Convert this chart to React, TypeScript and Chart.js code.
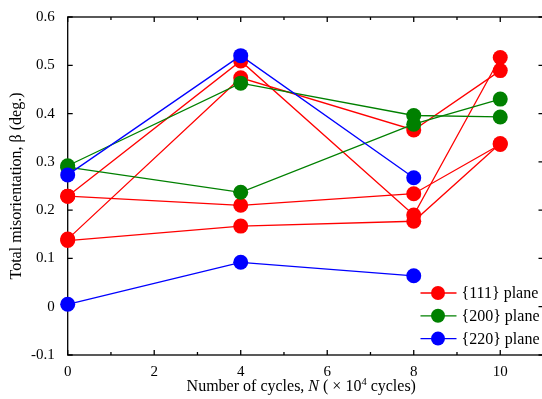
import React, { useEffect, useRef } from 'react';
import { Chart, registerables } from 'chart.js';
Chart.register(...registerables);

const cycles = [0, 4, 8, 10];
const cyclesBlue = [0, 4, 8];
const plane111a = [0.229, 0.509, 0.19, 0.516];
const plane111b = [0.14, 0.474, 0.366, 0.489];
const plane111c = [0.229, 0.21, 0.234, 0.336];
const plane111d = [0.137, 0.167, 0.177, 0.338];
const plane200a = [0.292, 0.463, 0.396, 0.393];
const plane200b = [0.289, 0.237, 0.378, 0.43];
const plane220a = [0.273, 0.52, 0.267];
const plane220b = [0.005, 0.092, 0.064];
const xTickValues = [0, 2, 4, 6, 8, 10];
const xMinorTicks = [1, 3, 5, 7, 9];
const yTickValues = [-0.1, 0, 0.1, 0.2, 0.3, 0.4, 0.5, 0.6];
const legendLabels = ['{111} plane', '{200} plane', '{220} plane'];
const RED = '#ff0000';
const GREEN = '#008000';
const BLUE = '#0000ff';
const legendColors = [RED, GREEN, BLUE];
const FONT = '"Liberation Serif", "Times New Roman", serif';

const pts = (xs: number[], ys: number[]) => xs.map((x, i) => ({ x, y: ys[i] }));

const ds = (label: string, color: string, xs: number[], ys: number[]) => ({
  label,
  data: pts(xs, ys),
  borderColor: color,
  backgroundColor: color,
  borderWidth: 1.3,
  pointRadius: 7.5,
  pointBorderWidth: 0,
  pointHoverRadius: 7.5,
  showLine: true,
  tension: 0,
  clip: false as any,
});

const framePlugin = {
  id: 'frame',
  beforeDatasetsDraw(chart: any) {
    const { ctx, chartArea: a, scales } = chart;
    const x = scales.x;
    const y = scales.y;
    ctx.save();
    ctx.strokeStyle = '#000';
    ctx.lineWidth = 1.3;
    ctx.strokeRect(a.left, a.top, a.right - a.left, a.bottom - a.top);
    ctx.beginPath();
    xTickValues.forEach((v) => {
      const px = x.getPixelForValue(v);
      ctx.moveTo(px, a.bottom);
      ctx.lineTo(px, a.bottom - 5);
      ctx.moveTo(px, a.top);
      ctx.lineTo(px, a.top + 5);
    });
    xMinorTicks.forEach((v) => {
      const px = x.getPixelForValue(v);
      ctx.moveTo(px, a.bottom);
      ctx.lineTo(px, a.bottom - 3);
      ctx.moveTo(px, a.top);
      ctx.lineTo(px, a.top + 3);
    });
    yTickValues.forEach((v) => {
      const py = y.getPixelForValue(v);
      ctx.moveTo(a.left, py);
      ctx.lineTo(a.left + 5, py);
      ctx.moveTo(a.right, py);
      ctx.lineTo(a.right - 5, py);
    });
    ctx.stroke();
    ctx.restore();
  },
  afterDraw(chart: any) {
    const { ctx, chartArea: a, scales } = chart;
    ctx.save();
    const lx = a.right - 123;
    legendLabels.forEach((lab, i) => {
      const ly = a.bottom - 62 + i * 22.8;
      ctx.strokeStyle = legendColors[i];
      ctx.fillStyle = legendColors[i];
      ctx.lineWidth = 1.3;
      ctx.beginPath();
      ctx.moveTo(lx, ly);
      ctx.lineTo(lx + 36, ly);
      ctx.stroke();
      ctx.beginPath();
      ctx.arc(lx + 17.5, ly, 7, 0, Math.PI * 2);
      ctx.fill();
      ctx.fillStyle = '#000';
      ctx.font = '16px ' + FONT;
      ctx.textBaseline = 'middle';
      ctx.textAlign = 'left';
      ctx.fillText(lab, lx + 41, ly + 1);
    });
    ctx.save();
    ctx.translate(17, (a.top + a.bottom) / 2);
    ctx.rotate(-Math.PI / 2);
    ctx.fillStyle = '#000';
    ctx.font = '16px ' + FONT;
    ctx.textAlign = 'center';
    ctx.textBaseline = 'middle';
    ctx.fillText('Total misorientation, β (deg.)', 0, 0);
    ctx.restore();
    const pieces: { t: string; f: string; dy: number }[] = [
      { t: 'Number of cycles, ', f: '16px ' + FONT, dy: 0 },
      { t: 'N', f: 'italic 16px ' + FONT, dy: 0 },
      { t: ' ( × 10', f: '16px ' + FONT, dy: 0 },
      { t: '4', f: '10.5px ' + FONT, dy: -5 },
      { t: ' cycles)', f: '16px ' + FONT, dy: 0 },
    ];
    let total = 0;
    pieces.forEach((p) => {
      ctx.font = p.f;
      total += ctx.measureText(p.t).width;
    });
    const centerX = scales.x.getPixelForValue(5.4);
    let cx = centerX - total / 2;
    const cy = 387;
    ctx.fillStyle = '#000';
    ctx.textAlign = 'left';
    ctx.textBaseline = 'middle';
    pieces.forEach((p) => {
      ctx.font = p.f;
      ctx.fillText(p.t, cx, cy + p.dy);
      cx += ctx.measureText(p.t).width;
    });
    ctx.restore();
  },
};

export default function App() {
  const ref = useRef<HTMLCanvasElement>(null);
  useEffect(() => {
    if (!ref.current) return;
    const chart = new Chart(ref.current, {
      type: 'line',
      data: {
        datasets: [
          ds('{220} plane', BLUE, cyclesBlue, plane220a),
          ds('{220} plane b', BLUE, cyclesBlue, plane220b),
          ds('{200} plane', GREEN, cycles, plane200a),
          ds('{200} plane b', GREEN, cycles, plane200b),
          ds('{111} plane', RED, cycles, plane111a),
          ds('{111} plane b', RED, cycles, plane111b),
          ds('{111} plane c', RED, cycles, plane111c),
          ds('{111} plane d', RED, cycles, plane111d),
        ] as any,
      },
      options: {
        animation: false,
        responsive: false,
        layout: { padding: { top: 17, right: 2, left: 0, bottom: 0 } },
        plugins: { legend: { display: false }, tooltip: { enabled: false } },
        events: [],
        scales: {
          x: {
            type: 'linear',
            min: 0,
            max: 11,
            grid: { display: false, drawTicks: false },
            border: { display: false },
            afterBuildTicks: (s: any) => {
              s.ticks = xTickValues.map((v) => ({ value: v }));
            },
            afterFit: (s: any) => {
              s.height = 44;
            },
            ticks: {
              padding: 8,
              color: '#000',
              font: { family: FONT, size: 15 },
              maxRotation: 0,
              callback: (v: any) => String(v),
            },
          },
          y: {
            type: 'linear',
            min: -0.1,
            max: 0.6,
            grid: { display: false, drawTicks: false },
            border: { display: false },
            afterBuildTicks: (s: any) => {
              s.ticks = yTickValues.map((v) => ({ value: v }));
            },
            afterFit: (s: any) => {
              s.width = 67.7;
              s.paddingTop = 0;
              s.paddingBottom = 0;
            },
            ticks: {
              padding: 13,
              color: '#000',
              font: { family: FONT, size: 15 },
              callback: (v: any) => String(Math.round(Number(v) * 10) / 10),
            },
          },
        },
      },
      plugins: [framePlugin],
    });
    return () => chart.destroy();
  }, []);
  return (
    <div style={{ position: 'fixed', left: 0, top: 0, width: 542, height: 399, overflow: 'hidden', background: '#fff' }}>
      <canvas ref={ref} width={551} height={399} style={{ display: 'block' }} />
    </div>
  );
}
